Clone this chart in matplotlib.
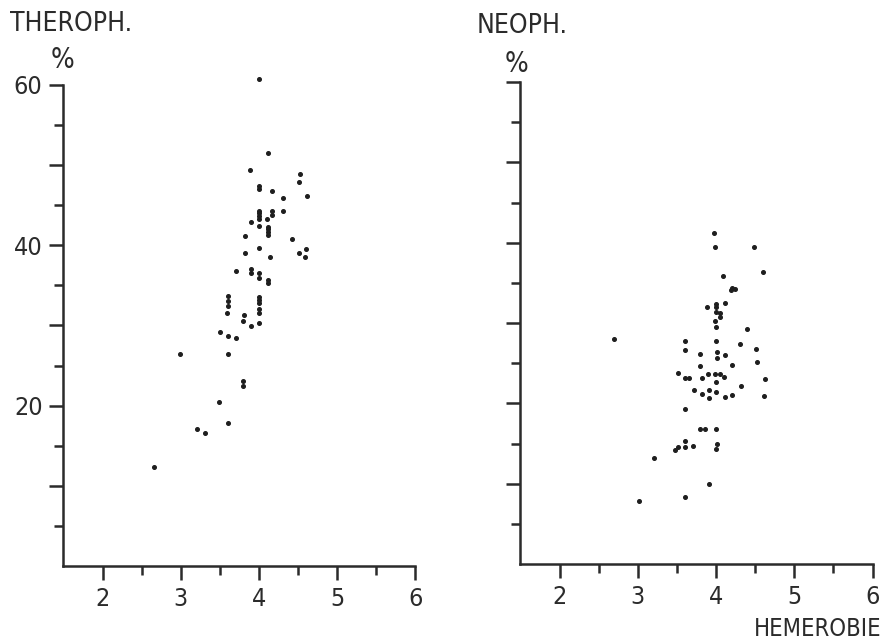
import matplotlib
matplotlib.use('Agg')
import matplotlib.pyplot as plt
from matplotlib.ticker import FixedLocator

# THEROPH. panel (hemerobie, percent)
thero_x = [4.0, 4.12, 3.89, 4.52, 4.51, 4.0, 4.0, 4.16, 4.31, 4.61,
           4.0, 4.0, 4.0, 4.0, 4.17, 4.17, 4.31, 4.10, 3.90, 4.0,
           4.12, 4.12, 4.12, 4.12, 3.82, 4.42, 4.0, 3.82, 4.51, 4.60,
           4.59, 4.14, 3.71, 3.90, 3.90, 4.0, 4.0, 4.11, 4.11, 3.60,
           3.60, 3.60, 3.59, 4.0, 4.0, 4.0, 4.0, 4.0, 3.81, 3.79,
           3.90, 4.0, 3.50, 3.60, 3.71, 2.99, 3.61, 3.80, 3.80, 3.49,
           3.60, 3.21, 3.31, 2.66]
thero_y = [60.8, 51.5, 49.4, 48.9, 47.9, 47.4, 47.0, 46.8, 45.9, 46.2,
           44.3, 44.0, 43.6, 43.3, 44.3, 43.8, 44.3, 43.3, 42.9, 42.4,
           42.3, 42.0, 41.7, 41.3, 41.2, 40.8, 39.7, 39.1, 39.0, 39.5,
           38.6, 38.5, 36.8, 37.1, 36.6, 36.5, 35.9, 35.7, 35.3, 33.7,
           33.1, 32.4, 31.5, 33.5, 33.2, 32.8, 32.0, 31.6, 31.3, 30.6,
           29.9, 30.3, 29.2, 28.7, 28.4, 26.5, 26.5, 23.1, 22.4, 20.4,
           17.9, 17.1, 16.6, 12.3]

# NEOPH. panel
neo_x = [3.97, 3.99, 4.49, 4.60, 4.09, 4.20, 4.19, 4.24, 4.0, 4.0,
         4.11, 3.89, 4.0, 4.05, 4.05, 3.99, 4.0, 4.40, 2.69, 3.61,
         3.61, 4.0, 4.31, 4.51, 3.80, 4.01, 4.01, 4.12, 3.80, 4.20,
         4.52, 3.51, 3.90, 3.99, 4.05, 3.61, 3.66, 3.82, 4.10, 4.62,
         4.0, 4.32, 3.72, 3.91, 3.82, 4.0, 3.91, 4.11, 4.21, 4.61,
         3.60, 3.80, 3.86, 4.0, 3.61, 3.51, 3.47, 3.61, 3.70, 4.01,
         4.0, 3.21, 3.91, 3.01, 3.60]
neo_y = [41.2, 39.4, 39.4, 36.3, 35.9, 34.4, 34.1, 34.2, 32.4, 32.0,
         32.5, 32.0, 31.4, 31.2, 30.8, 30.3, 29.5, 29.3, 28.0, 27.7,
         26.7, 27.7, 27.4, 26.8, 26.1, 26.4, 25.6, 26.0, 24.6, 24.8,
         25.2, 23.8, 23.7, 23.7, 23.7, 23.1, 23.1, 23.1, 23.3, 23.0,
         22.7, 22.2, 21.7, 21.7, 21.2, 21.4, 20.7, 20.8, 21.0, 20.9,
         19.3, 16.8, 16.8, 16.8, 15.3, 14.6, 14.2, 14.6, 14.7, 14.9,
         14.3, 13.2, 9.9, 7.8, 8.3]

x_ticks = [2, 3, 4, 5, 6]
x_minor = [2.5, 3.5, 4.5, 5.5]
y_ticks = [10, 20, 30, 40, 50, 60]
y_minor = [5, 15, 25, 35, 45, 55]

ink = '#2b2b2b'
font = dict(family='DejaVu Sans', stretch='condensed', color=ink)

fig = plt.figure(figsize=(8.84, 6.44), dpi=100)
fig.patch.set_facecolor('white')

ax1 = fig.add_axes([63.4 / 884, 78 / 644, 352.1 / 884, 481 / 644])
ax2 = fig.add_axes([520.4 / 884, 80 / 644, 352.1 / 884, 482 / 644])


def style_axis(ax, ylabels):
    ax.set_xlim(1.5, 6)
    ax.set_ylim(0, 60)
    for s in ['top', 'right']:
        ax.spines[s].set_visible(False)
    for s in ['left', 'bottom']:
        ax.spines[s].set_linewidth(1.8)
        ax.spines[s].set_color(ink)
        ax.spines[s].set_capstyle('projecting')
    ax.set_xticks(x_ticks)
    ax.set_xticklabels([str(t) for t in x_ticks])
    ax.xaxis.set_minor_locator(FixedLocator(x_minor))
    ax.set_yticks(y_ticks)
    ax.set_yticklabels(ylabels)
    ax.yaxis.set_minor_locator(FixedLocator(y_minor))
    ax.tick_params(which='major', length=10, width=1.8, color=ink,
                   direction='out', pad=5, labelsize=18, labelcolor=ink)
    ax.tick_params(which='minor', length=6.5, width=1.8, color=ink,
                   direction='out')
    for lab in ax.get_xticklabels() + ax.get_yticklabels():
        lab.set_fontstretch('condensed')
        lab.set_fontweight('medium')
    ax.patch.set_alpha(0)


style_axis(ax1, ['', '20', '', '40', '', '60'])
style_axis(ax2, ['', '', '', '', '', ''])

ax1.plot(thero_x, thero_y, 'o', ms=2.6, color='#1e1e1e', clip_on=False)
ax2.plot(neo_x, neo_y, 'o', ms=2.6, color='#1e1e1e', clip_on=False)

fig.text(10 / 884, 1 - 24 / 644, 'THEROPH.', ha='left', va='center', fontsize=19, **font)
fig.text(477 / 884, 1 - 26 / 644, 'NEOPH.', ha='left', va='center', fontsize=19, **font)
fig.text(63 / 884, 1 - 60 / 644, '%', ha='center', va='center', fontsize=20, **font)
fig.text(516 / 884, 1 - 64 / 644, '%', ha='center', va='center', fontsize=20, **font)
fig.text(882 / 884, 1 - 629 / 644, 'HEMEROBIE', ha='right', va='center', fontsize=17, **font)

fig.savefig('out.png', dpi=100, facecolor='white')
